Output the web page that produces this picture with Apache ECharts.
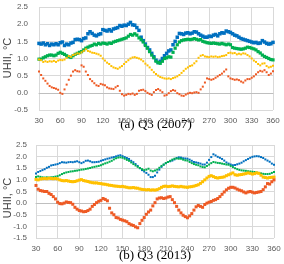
<!DOCTYPE html>
<html><head><meta charset="utf-8">
<script src="https://cdn.jsdelivr.net/npm/echarts@6/dist/echarts.min.js"></script>
<style>html,body{margin:0;padding:0;background:#fff}#c{width:284px;height:264px}</style>
</head><body><div id="c"></div>
<script>
const days = [30,33,36,39,42,45,48,51,54,57,60,63,66,69,72,75,78,81,84,87,90,93,96,99,102,105,108,111,114,117,120,123,126,129,132,135,138,141,144,147,150,153,156,159,162,165,168,171,174,177,180,183,186,189,192,195,198,201,204,207,210,213,216,219,222,225,228,231,234,237,240,243,246,249,252,255,258,261,264,267,270,273,276,279,282,285,288,291,294,297,300,303,306,309,312,315,318,321,324,327,330,333,336,339,342,345,348,351,354,357,360];
const xTicks = [30,60,90,120,150,180,210,240,270,300,330,360];
const titleA = "(a) Q3 (2007)";
const titleB = "(b) Q3 (2013)";
const yName = "UHII, °C";

const blueA = [1.44,1.42,1.45,1.40,1.43,1.38,1.42,1.40,1.43,1.40,1.46,1.48,1.38,1.42,1.40,1.45,1.47,1.55,1.56,1.55,1.52,1.58,1.60,1.72,1.78,1.73,1.68,1.66,1.70,1.72,1.84,1.82,1.80,1.84,1.80,1.86,1.88,1.90,1.96,1.94,1.97,1.96,2.00,2.05,1.98,1.97,1.90,1.82,1.62,1.52,1.42,1.32,1.25,1.15,1.05,0.95,0.88,0.92,1.00,1.08,1.15,1.22,1.25,1.40,1.50,1.62,1.73,1.72,1.70,1.74,1.75,1.72,1.74,1.78,1.77,1.72,1.68,1.65,1.62,1.62,1.65,1.64,1.68,1.70,1.66,1.72,1.75,1.74,1.80,1.78,1.76,1.72,1.68,1.66,1.62,1.58,1.56,1.54,1.52,1.50,1.48,1.46,1.47,1.44,1.45,1.52,1.48,1.44,1.42,1.43,1.47];
const greenA = [0.98,0.98,1.02,1.05,1.08,1.10,1.10,1.08,1.10,1.15,1.18,1.15,1.12,1.08,1.05,1.03,1.08,1.12,1.15,1.18,1.20,1.25,1.30,1.33,1.36,1.38,1.42,1.40,1.44,1.42,1.45,1.44,1.42,1.45,1.44,1.48,1.50,1.52,1.54,1.56,1.58,1.60,1.65,1.70,1.68,1.72,1.68,1.60,1.55,1.48,1.38,1.30,1.20,1.10,1.02,0.92,0.88,0.86,0.92,1.00,1.02,1.05,1.04,1.18,1.30,1.40,1.48,1.52,1.54,1.55,1.56,1.55,1.56,1.58,1.56,1.54,1.55,1.50,1.48,1.46,1.45,1.44,1.45,1.44,1.43,1.42,1.44,1.42,1.40,1.42,1.40,1.32,1.30,1.29,1.28,1.27,1.28,1.30,1.33,1.32,1.30,1.28,1.25,1.20,1.16,1.10,1.06,1.03,1.00,0.97,0.96];
const yellowA = [0.97,0.95,0.90,0.92,0.90,0.92,0.91,0.93,0.90,0.94,0.96,0.95,0.97,1.02,1.07,1.05,1.10,1.12,1.15,1.14,1.18,1.22,1.27,1.22,1.20,1.17,1.16,1.14,1.12,1.08,1.00,0.94,0.88,0.84,0.78,0.74,0.72,0.70,0.74,0.78,0.84,0.90,0.95,1.00,1.03,1.04,1.02,1.00,0.97,0.92,0.85,0.80,0.74,0.67,0.60,0.55,0.50,0.46,0.44,0.42,0.41,0.42,0.40,0.43,0.45,0.48,0.52,0.58,0.64,0.70,0.74,0.78,0.80,0.86,0.92,1.02,1.08,1.10,1.06,1.05,1.04,1.06,1.05,1.06,1.04,1.05,1.07,1.08,1.10,1.16,1.17,1.15,1.16,1.12,1.14,1.12,1.15,1.14,1.10,1.06,1.00,0.94,0.90,0.84,0.80,0.85,0.86,0.78,0.74,0.76,0.79];
const orangeA = [0.62,0.52,0.42,0.35,0.27,0.20,0.16,0.14,0.12,0.09,0.00,-0.03,0.10,0.24,0.38,0.50,0.62,0.66,0.63,0.62,0.80,0.76,0.62,0.52,0.40,0.34,0.28,0.22,0.20,0.26,0.24,0.22,0.16,0.13,0.12,0.11,0.16,0.20,0.06,-0.04,-0.08,-0.06,-0.03,-0.04,-0.02,-0.06,-0.03,0.06,0.08,0.09,0.05,0.00,-0.03,-0.06,0.02,0.08,0.11,0.07,0.02,-0.08,-0.06,-0.01,0.05,0.08,0.06,-0.01,-0.04,-0.08,-0.09,-0.05,-0.02,0.00,-0.01,0.01,0.02,0.00,0.10,0.18,0.30,0.42,0.40,0.38,0.40,0.44,0.48,0.52,0.56,0.62,0.68,0.48,0.42,0.40,0.38,0.39,0.37,0.33,0.30,0.36,0.40,0.40,0.44,0.48,0.54,0.60,0.64,0.62,0.66,0.60,0.52,0.56,0.63];

const blueB = [1.27,1.34,1.38,1.42,1.46,1.52,1.56,1.62,1.64,1.66,1.68,1.72,1.76,1.75,1.74,1.76,1.77,1.76,1.78,1.80,1.76,1.72,1.76,1.82,1.83,1.80,1.76,1.76,1.77,1.78,1.82,1.85,1.88,1.91,1.93,1.96,1.98,2.01,2.04,2.06,2.02,1.98,1.94,1.90,1.82,1.76,1.68,1.60,1.50,1.42,1.36,1.30,1.22,1.12,1.12,1.18,1.32,1.44,1.56,1.65,1.72,1.77,1.80,1.83,1.88,1.94,1.97,1.96,1.93,1.92,1.91,1.87,1.82,1.77,1.75,1.73,1.70,1.66,1.66,1.74,1.86,1.98,2.10,2.05,1.99,1.95,1.90,1.83,1.75,1.70,1.66,1.63,1.64,1.67,1.70,1.74,1.80,1.85,1.90,1.95,1.99,2.01,2.02,2.01,1.98,1.94,1.88,1.83,1.78,1.70,1.65];
const greenB = [1.12,1.15,1.13,1.11,1.10,1.11,1.10,1.11,1.12,1.14,1.16,1.20,1.25,1.29,1.32,1.34,1.36,1.37,1.39,1.40,1.42,1.44,1.45,1.47,1.49,1.51,1.54,1.56,1.58,1.60,1.63,1.67,1.71,1.74,1.78,1.82,1.88,1.93,1.96,1.97,1.95,1.91,1.86,1.82,1.75,1.68,1.62,1.56,1.51,1.46,1.42,1.44,1.48,1.40,1.37,1.40,1.44,1.52,1.60,1.66,1.72,1.77,1.82,1.87,1.91,1.92,1.91,1.91,1.87,1.84,1.83,1.77,1.72,1.68,1.65,1.63,1.58,1.55,1.54,1.60,1.66,1.72,1.77,1.75,1.73,1.72,1.70,1.68,1.66,1.65,1.60,1.55,1.50,1.46,1.43,1.41,1.40,1.39,1.37,1.36,1.35,1.34,1.32,1.30,1.28,1.26,1.25,1.25,1.26,1.30,1.34];
const yellowB = [1.02,1.00,1.04,1.05,1.06,1.05,1.07,1.06,1.05,1.06,1.04,1.00,0.97,0.96,0.97,0.95,0.93,0.92,0.93,0.96,0.99,1.01,0.97,0.95,0.93,0.90,0.88,0.87,0.87,0.85,0.84,0.82,0.81,0.79,0.77,0.76,0.74,0.73,0.72,0.71,0.72,0.70,0.68,0.66,0.66,0.67,0.65,0.64,0.61,0.59,0.58,0.57,0.58,0.56,0.57,0.56,0.58,0.62,0.68,0.72,0.73,0.71,0.72,0.74,0.72,0.71,0.70,0.72,0.70,0.69,0.68,0.70,0.71,0.73,0.76,0.79,0.85,0.92,1.00,1.08,1.15,1.18,1.14,1.10,1.08,1.10,1.11,1.13,1.18,1.22,1.26,1.30,1.22,1.20,1.22,1.23,1.25,1.27,1.30,1.28,1.25,1.27,1.30,1.28,1.20,1.12,1.10,1.08,1.10,1.11,1.12];
const orangeB = [0.76,0.60,0.54,0.52,0.50,0.50,0.42,0.37,0.28,0.18,0.04,-0.02,-0.03,0.00,0.05,0.03,0.02,-0.05,-0.18,-0.26,-0.32,-0.34,-0.37,-0.36,-0.32,-0.26,-0.14,-0.06,0.02,0.08,0.12,0.20,0.16,0.10,-0.22,-0.42,-0.50,-0.62,-0.64,-0.70,-0.73,-0.76,-0.80,-0.88,-0.93,-0.96,-1.02,-1.06,-0.88,-0.74,-0.62,-0.48,-0.38,-0.30,-0.12,0.02,0.18,0.22,0.23,0.20,0.22,0.26,0.28,0.15,0.02,-0.14,-0.30,-0.42,-0.52,-0.58,-0.63,-0.55,-0.45,-0.30,-0.16,-0.10,-0.14,-0.18,-0.06,0.00,0.04,0.07,0.12,0.15,0.20,0.28,0.38,0.48,0.57,0.64,0.68,0.68,0.65,0.60,0.56,0.53,0.48,0.44,0.48,0.50,0.47,0.44,0.46,0.48,0.50,0.58,0.70,0.84,0.82,0.92,1.00];

const COLORS = {blue:'#0070C0', green:'#00B050', yellow:'#FFC000', orange:'#EE5A24'};
const pair = arr => days.map((d,i)=>[d,arr[i]]);

const labelStyle = {fontFamily:'Liberation Sans', fontSize:8, color:'#595959'};
function xAx(gi){
  return {gridIndex:gi, type:'value', min:30, max:360, interval:30,
    axisLine:{show:true,onZero:true,lineStyle:{color:'#BFBFBF',width:1}},
    axisTick:{show:false},
    axisLabel:Object.assign({margin:7},labelStyle),
    splitLine:{show:true,lineStyle:{color:'#D9D9D9',width:1}}};
}
function yAx(gi,min,max,margin){
  return {gridIndex:gi, type:'value', min:min, max:max, interval:0.5,
    axisLine:{show:false}, axisTick:{show:false},
    axisLabel:Object.assign({margin:margin, formatter:v=>v.toFixed(1)},labelStyle),
    splitLine:{show:true,lineStyle:{color:'#D9D9D9',width:1}}};
}
function sc(gi,arr,color,size){
  return {type:'scatter', xAxisIndex:gi, yAxisIndex:gi, data:pair(arr),
    symbol:'rect', symbolSize:size, itemStyle:{color:color, opacity:1}, silent:true};
}
const chart = echarts.init(document.getElementById('c'), null, {renderer:'canvas'});
chart.setOption({
  animation:false,
  grid:[{left:39,top:7,width:234,height:103},{left:36,top:145,width:238,height:93}],
  xAxis:[xAx(0),xAx(1)],
  yAxis:[yAx(0,-0.5,2.5,11),yAx(1,-1.5,2.5,9)],
  series:[
    sc(0,blueA,COLORS.blue,3.5), sc(0,greenA,COLORS.green,3.2), sc(0,yellowA,COLORS.yellow,2), sc(0,orangeA,COLORS.orange,2),
    sc(1,blueB,COLORS.blue,2), sc(1,greenB,COLORS.green,2), sc(1,yellowB,COLORS.yellow,3), sc(1,orangeB,COLORS.orange,3)
  ],
  graphic:[
    {type:'text', x:8, y:58, rotation:Math.PI/2, style:{text:yName, fontFamily:'Liberation Sans', fontSize:11, fill:'#404040', align:'center', verticalAlign:'middle'}},
    {type:'text', x:8, y:198, rotation:Math.PI/2, style:{text:yName, fontFamily:'Liberation Sans', fontSize:11, fill:'#404040', align:'center', verticalAlign:'middle'}},
    {type:'text', x:156, y:125, style:{text:titleA, fontFamily:'Liberation Serif', fontSize:13, fill:'#000', align:'center', verticalAlign:'middle'}},
    {type:'text', x:155, y:256, style:{text:titleB, fontFamily:'Liberation Serif', fontSize:13, fill:'#000', align:'center', verticalAlign:'middle'}}
  ]
});
</script></body></html>
